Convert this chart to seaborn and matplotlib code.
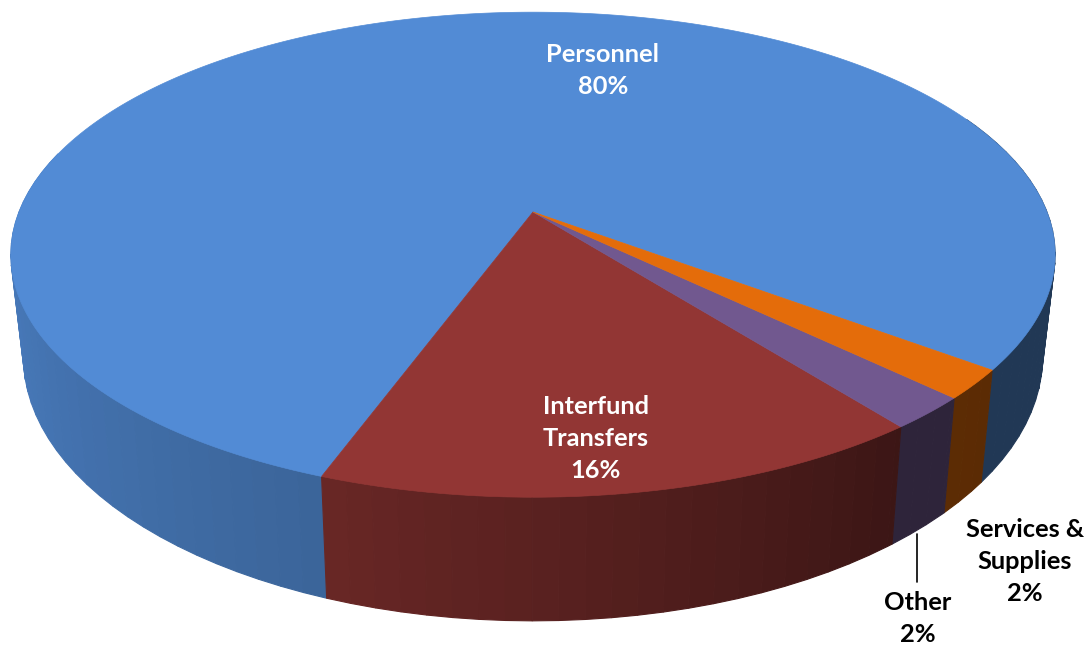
import numpy as np
import matplotlib
matplotlib.use("Agg")
import matplotlib.pyplot as plt
import seaborn as sns

categories = ["Personnel", "Interfund\nTransfers", "Other", "Services &\nSupplies"]
values = [79.7, 16.15, 2.2, 1.95]
label_pcts = ["80%", "16%", "2%", "2%"]
colors = ["#528BD5", "#923634", "#71588F", "#E46C0A"]

sns.set_theme(style="white")
plt.rcParams["font.family"] = ["Lato", "DejaVu Sans"]

W, H = 1087, 646
fig = plt.figure(figsize=(W / 100, H / 100), dpi=100)
ax = fig.add_axes([0, 0, 1, 1])
ax.set_xlim(0, W)
ax.set_ylim(H, 0)
ax.axis("off")

# projection of a tilted round pie (perspective, apex off the ellipse centre)
cx, cy = 533, 212
sx, sy, k = 514, 235, 0.176
start = -37.0


def top_rim(t):
    r = np.radians(t)
    d = 1 + k * np.sin(r)
    return cx + sx * np.cos(r) / d, cy - sy * np.sin(r) / d


def bottom_rim(t):
    x, y = top_rim(t)
    return cx + 0.976 * (x - cx), cy + 1.09 * (y - cy) + 98


shade_t = [170, 180, 215, 250, 280, 307, 323, 380]
shade_f = [0.92, 0.90, 0.82, 0.72, 0.56, 0.41, 0.40, 0.40]

edges = start + np.cumsum([0] + values) / sum(values) * 360
pal = sns.color_palette(colors)

# side wall, back to front
strips = []
for i, c in enumerate(pal):
    a, b = edges[i], edges[i + 1]
    for off in (0, 360):
        lo, hi = max(a + off, 165), min(b + off, 385)
        if lo >= hi:
            continue
        grid = np.append(np.arange(lo, hi, 2.5), hi)
        for t0, t1 in zip(grid[:-1], grid[1:]):
            strips.append((t0, t1, c))
# paint outwards from the sides towards the front (270 deg) so the nearest is last
strips.sort(key=lambda s: -abs((s[0] + s[1]) / 2 - 270))
for t0, t1, c in strips:
    f = np.interp((t0 + t1) / 2, shade_t, shade_f)
    col = tuple(f * np.array(c))
    x0, y0 = top_rim(t0)
    x1, y1 = top_rim(t1)
    x2, y2 = bottom_rim(t1)
    x3, y3 = bottom_rim(t0)
    ax.fill([x0, x1, x2, x3], [y0, y1, y2, y3], color=col, lw=0.8, zorder=1)

# top face
for i, c in enumerate(pal):
    ts = np.linspace(edges[i], edges[i + 1], 400)
    xs, ys = top_rim(ts)
    ax.fill(np.r_[cx, xs], np.r_[cy, ys], color=c, lw=0.5, zorder=2)

txt = dict(ha="center", va="center", fontweight="bold", fontsize=18.3, linespacing=1.47, zorder=4)
ax.text(603, 70.5, f"{categories[0]}\n{label_pcts[0]}", color="white", **txt)
ax.text(596, 438.5, f"{categories[1]}\n{label_pcts[1]}", color="white", **txt)
ax.text(918, 618.5, f"{categories[2]}\n{label_pcts[2]}", color="black", **txt)
ax.text(1025, 561.5, f"{categories[3]}\n{label_pcts[3]}", color="black", **txt)
ax.plot([917, 917], [534, 582], color="black", lw=1.2, zorder=3)

fig.savefig("out.png", dpi=100)
